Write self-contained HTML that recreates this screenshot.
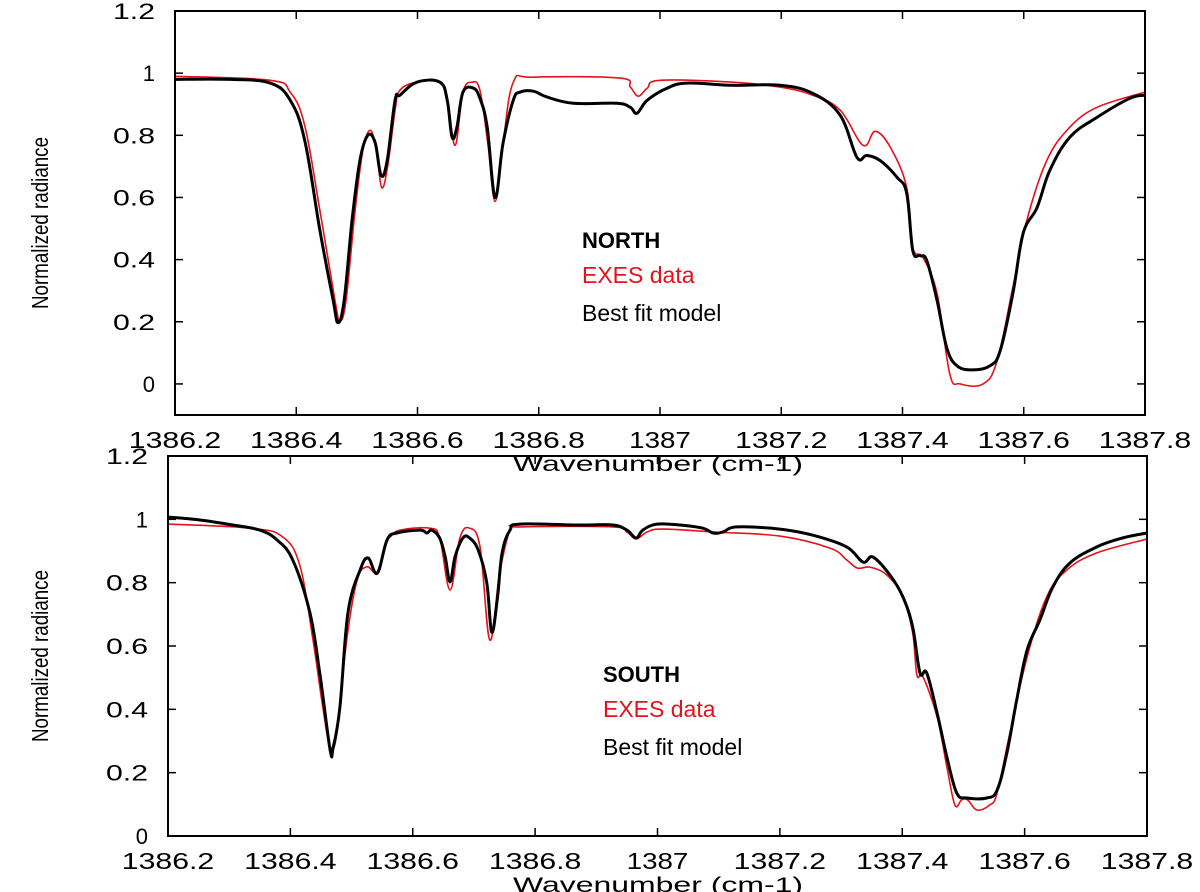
<!DOCTYPE html>
<html><head><meta charset="utf-8"><style>
body{margin:0;background:#fff;}
svg{display:block;font-family:"Liberation Sans",sans-serif;}
</style></head><body>
<svg id="chart" width="1200" height="892" viewBox="0 0 1200 892">
<g id="top"></g>
<g id="bot"></g>
</svg>
<script>
const xTicks = [1386.2,1386.4,1386.6,1386.8,1387,1387.2,1387.4,1387.6,1387.8];
const xTickLabels = ["1386.2","1386.4","1386.6","1386.8","1387","1387.2","1387.4","1387.6","1387.8"];
const yTicks = [0,0.2,0.4,0.6,0.8,1,1.2];
const yTickLabels = ["0","0.2","0.4","0.6","0.8","1","1.2"];

const northModelW = [1386.2,1386.291,1386.357,1386.39,1386.414,1386.439,1386.461,1386.469,1386.479,1386.492,1386.505,1386.518,1386.53,1386.54,1386.55,1386.563,1386.571,1386.599,1386.637,1386.649,1386.657,1386.665,1386.675,1386.692,1386.703,1386.715,1386.728,1386.741,1386.758,1386.769,1386.791,1386.814,1386.857,1386.929,1386.951,1386.962,1386.979,1387.012,1387.045,1387.12,1387.198,1387.252,1387.297,1387.325,1387.341,1387.363,1387.391,1387.407,1387.417,1387.429,1387.44,1387.457,1387.473,1387.49,1387.516,1387.544,1387.561,1387.582,1387.599,1387.622,1387.643,1387.676,1387.721,1387.775,1387.8];
const northModelV = [0.98,0.98,0.968,0.913,0.784,0.494,0.268,0.197,0.268,0.526,0.719,0.80,0.777,0.671,0.719,0.913,0.929,0.971,0.971,0.913,0.794,0.826,0.939,0.952,0.919,0.826,0.60,0.774,0.913,0.939,0.942,0.923,0.903,0.903,0.89,0.871,0.913,0.952,0.968,0.961,0.961,0.935,0.865,0.729,0.735,0.719,0.665,0.613,0.429,0.413,0.397,0.268,0.116,0.058,0.045,0.058,0.106,0.29,0.484,0.568,0.687,0.794,0.858,0.919,0.929];
const northDataW = [1386.2,1386.357,1386.39,1386.414,1386.439,1386.464,1386.472,1386.482,1386.497,1386.51,1386.522,1386.532,1386.541,1386.551,1386.563,1386.571,1386.599,1386.637,1386.649,1386.662,1386.675,1386.69,1386.703,1386.716,1386.728,1386.741,1386.758,1386.791,1386.934,1386.951,1386.964,1386.979,1387.0,1387.12,1387.198,1387.252,1387.297,1387.335,1387.355,1387.38,1387.407,1387.417,1387.434,1387.457,1387.478,1387.495,1387.533,1387.556,1387.582,1387.605,1387.638,1387.676,1387.721,1387.8];
const northDataV = [0.99,0.977,0.939,0.832,0.558,0.268,0.203,0.268,0.558,0.752,0.816,0.752,0.632,0.703,0.881,0.945,0.971,0.971,0.923,0.768,0.939,0.971,0.945,0.774,0.587,0.774,0.971,0.987,0.984,0.955,0.926,0.952,0.977,0.971,0.955,0.929,0.881,0.768,0.813,0.761,0.632,0.439,0.406,0.29,0.032,0.0,0.0,0.074,0.31,0.526,0.719,0.826,0.89,0.939];

const southModelW = [1386.2,1386.252,1386.306,1386.35,1386.378,1386.404,1386.432,1386.448,1386.465,1386.47,1386.481,1386.494,1386.514,1386.527,1386.542,1386.558,1386.574,1386.612,1386.623,1386.631,1386.644,1386.653,1386.661,1386.669,1386.682,1386.693,1386.707,1386.721,1386.729,1386.738,1386.746,1386.759,1386.775,1386.873,1386.927,1386.95,1386.965,1386.976,1386.999,1387.037,1387.074,1387.091,1387.107,1387.13,1387.2,1387.254,1387.309,1387.336,1387.352,1387.38,1387.401,1387.417,1387.429,1387.44,1387.457,1387.473,1387.489,1387.506,1387.538,1387.555,1387.571,1387.587,1387.604,1387.625,1387.646,1387.674,1387.718,1387.76,1387.8];
const southModelV = [1.007,0.998,0.982,0.966,0.935,0.871,0.704,0.515,0.272,0.28,0.407,0.704,0.84,0.878,0.83,0.935,0.957,0.966,0.957,0.966,0.941,0.881,0.802,0.881,0.941,0.941,0.903,0.799,0.644,0.745,0.894,0.966,0.985,0.982,0.982,0.966,0.941,0.966,0.985,0.982,0.972,0.957,0.96,0.976,0.969,0.95,0.913,0.865,0.881,0.824,0.755,0.66,0.515,0.515,0.388,0.249,0.136,0.12,0.12,0.145,0.262,0.429,0.587,0.682,0.786,0.862,0.913,0.941,0.957];
const southDataW = [1386.2,1386.334,1386.388,1386.416,1386.437,1386.453,1386.465,1386.476,1386.492,1386.509,1386.525,1386.542,1386.558,1386.563,1386.579,1386.628,1386.644,1386.661,1386.677,1386.693,1386.71,1386.726,1386.742,1386.759,1386.775,1386.927,1386.95,1386.965,1386.983,1387.009,1387.091,1387.2,1387.282,1387.309,1387.327,1387.347,1387.375,1387.401,1387.417,1387.424,1387.434,1387.457,1387.473,1387.486,1387.497,1387.507,1387.522,1387.543,1387.555,1387.576,1387.604,1387.636,1387.669,1387.718,1387.8];
const southDataV = [0.985,0.972,0.944,0.85,0.619,0.407,0.281,0.325,0.619,0.808,0.85,0.834,0.935,0.944,0.966,0.972,0.941,0.777,0.941,0.972,0.912,0.619,0.83,0.966,0.976,0.976,0.96,0.938,0.96,0.969,0.96,0.947,0.909,0.872,0.846,0.849,0.824,0.755,0.641,0.508,0.502,0.376,0.218,0.098,0.114,0.114,0.082,0.098,0.136,0.325,0.565,0.755,0.84,0.894,0.938];

const NS="http://www.w3.org/2000/svg";
function mk(parent,tag,attrs){const e=document.createElementNS(NS,tag);for(const k in attrs)e.setAttribute(k,attrs[k]);parent.appendChild(e);return e;}
function smooth(pts){
  let d='M'+pts[0][0].toFixed(1)+','+pts[0][1].toFixed(1);
  const t=0.18;
  for(let i=0;i<pts.length-1;i++){
    const p0=pts[Math.max(0,i-1)],p1=pts[i],p2=pts[i+1],p3=pts[Math.min(pts.length-1,i+2)];
    const c1=[p1[0]+(p2[0]-p0[0])*t,p1[1]+(p2[1]-p0[1])*t];
    const c2=[p2[0]-(p3[0]-p1[0])*t,p2[1]-(p3[1]-p1[1])*t];
    d+='C'+c1[0].toFixed(1)+','+c1[1].toFixed(1)+' '+c2[0].toFixed(1)+','+c2[1].toFixed(1)+' '+p2[0].toFixed(1)+','+p2[1].toFixed(1);
  }
  return d;
}

function panel(g,box,ymin,blackW,blackV,redW,redV,legend,legendPos){
  const xs=w=>box.l+(w-1386.2)/(1.6)*(box.r-box.l);
  const ys=v=>box.b-(v-ymin)/(1.2-ymin)*(box.b-box.t);
  const red=mk(g,'path',{d:smooth(redW.map((w,i)=>[xs(w),ys(redV[i])])),fill:'none',stroke:'#e8101a','stroke-width':1.6,'stroke-linejoin':'round'});
  
  
  const blk=mk(g,'path',{d:smooth(blackW.map((w,i)=>[xs(w),ys(blackV[i])])),fill:'none',stroke:'#000','stroke-width':3,'stroke-linejoin':'round'});
  
  
  const fr=mk(g,'rect',{x:box.l,y:box.t,width:box.r-box.l,height:box.b-box.t,fill:'none',stroke:'#000','stroke-width':2});
  
  
  xTicks.forEach((t,i)=>{
    const x=xs(t);
    mk(g,'line',{x1:x,x2:x,y1:box.b,y2:box.b-8,stroke:'#000','stroke-width':1.5});
    mk(g,'line',{x1:x,x2:x,y1:box.t,y2:box.t+8,stroke:'#000','stroke-width':1.5});
    const lab=xTickLabels[i];
    const tx=mk(g,'text',{x:x,y:box.b+33,'text-anchor':'middle','font-size':23,textLength:lab.length*15.4,lengthAdjust:'spacingAndGlyphs'});
    tx.textContent=lab;
    
    
  });
  yTicks.forEach((t,i)=>{
    const y=ys(t);
    mk(g,'line',{x1:box.l,x2:box.l+8,y1:y,y2:y,stroke:'#000','stroke-width':1.5});
    mk(g,'line',{x1:box.r,x2:box.r-8,y1:y,y2:y,stroke:'#000','stroke-width':1.5});
    const lab=yTickLabels[i];
    const tx=mk(g,'text',{x:box.l-20,y:y+8,'text-anchor':'end','font-size':22});
    if(lab.length>1){tx.setAttribute('textLength',lab.length*14);tx.setAttribute('lengthAdjust','spacingAndGlyphs');}
    tx.textContent=lab;
    
    
  });
  const xt=mk(g,'text',{x:658,y:box.b+56,'text-anchor':'middle','font-size':21,textLength:290,lengthAdjust:'spacingAndGlyphs'});
  xt.textContent='Wavenumber (cm-1)';
  
  
  const cy=(box.t+box.b)/2+10;
  const yt=mk(g,'text',{x:0,y:0,'text-anchor':'middle','font-size':23,transform:`translate(48,${cy}) rotate(-90)`,textLength:172,lengthAdjust:'spacingAndGlyphs'});
  yt.textContent='Normalized radiance';
  
  
  const l1=mk(g,'text',{x:legendPos[0],y:legendPos[1],'font-size':22,'font-weight':'bold'});
  l1.textContent=legend;
  
  
  const l2=mk(g,'text',{x:legendPos[0],y:legendPos[1]+35,'font-size':23,fill:'#e8101a'});
  l2.textContent='EXES data';
  
  
  const l3=mk(g,'text',{x:legendPos[0],y:legendPos[1]+73,'font-size':23});
  l3.textContent='Best fit model';
  
  
}
panel(document.getElementById('top'),{l:175,r:1145,t:11,b:415},-0.1,northModelW,northModelV,northDataW,northDataV,'NORTH',[582,248]);
panel(document.getElementById('bot'),{l:168,r:1147,t:456,b:836},0,southModelW,southModelV,southDataW,southDataV,'SOUTH',[603,682]);
</script>
</body></html>
